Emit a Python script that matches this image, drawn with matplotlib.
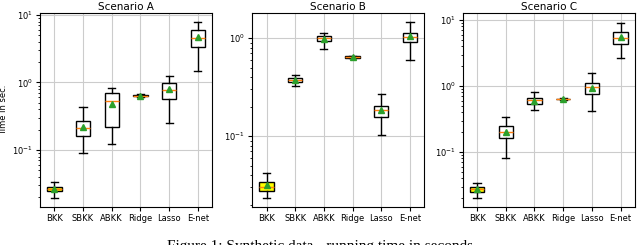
"""Running time box plots for the synthetic scenarios."""
import matplotlib
matplotlib.use("Agg")
import matplotlib.pyplot as plt

methods = ["BKK", "SBKK", "ABKK", "Ridge", "Lasso", "E-net"]
titles = ["Scenario A", "Scenario B", "Scenario C"]

# per method: whislo, q1, med, q3, whishi, mean
scen_a_lo = [0.0195, 0.089, 0.124, 0.600, 0.251, 1.50]
scen_a_q1 = [0.0245, 0.163, 0.221, 0.620, 0.574, 3.33]
scen_a_med = [0.0265, 0.211, 0.536, 0.635, 0.762, 4.62]
scen_a_q3 = [0.0284, 0.271, 0.688, 0.650, 0.977, 5.93]
scen_a_hi = [0.0333, 0.427, 0.834, 0.665, 1.25, 7.79]
scen_a_mean = [0.0265, 0.216, 0.478, 0.635, 0.797, 4.67]

scen_b_lo = [0.0233, 0.324, 0.772, 0.620, 0.102, 0.601]
scen_b_q1 = [0.0275, 0.356, 0.932, 0.630, 0.156, 0.903]
scen_b_med = [0.0306, 0.376, 1.00, 0.640, 0.183, 1.016]
scen_b_q3 = [0.0337, 0.391, 1.048, 0.650, 0.201, 1.133]
scen_b_hi = [0.0416, 0.423, 1.116, 0.660, 0.270, 1.456]
scen_b_mean = [0.0319, 0.376, 0.977, 0.640, 0.186, 1.048]

scen_c_lo = [0.020, 0.0807, 0.434, 0.615, 0.414, 2.68]
scen_c_q1 = [0.025, 0.162, 0.534, 0.628, 0.748, 4.37]
scen_c_med = [0.0274, 0.204, 0.614, 0.636, 0.955, 5.38]
scen_c_q3 = [0.0294, 0.246, 0.667, 0.645, 1.11, 6.55]
scen_c_hi = [0.0334, 0.336, 0.821, 0.655, 1.57, 9.17]
scen_c_mean = [0.0274, 0.200, 0.587, 0.636, 0.933, 5.57]

scenarios = [
    (scen_a_lo, scen_a_q1, scen_a_med, scen_a_q3, scen_a_hi, scen_a_mean),
    (scen_b_lo, scen_b_q1, scen_b_med, scen_b_q3, scen_b_hi, scen_b_mean),
    (scen_c_lo, scen_c_q1, scen_c_med, scen_c_q3, scen_c_hi, scen_c_mean),
]
ylims = [(0.0143, 10.7), (0.0189, 1.8), (0.0147, 12.8)]
lefts = [0.0625, 0.394, 0.723]

fig = plt.figure(figsize=(6.4, 2.45), dpi=100)

for k, (title, data) in enumerate(zip(titles, scenarios)):
    ax = fig.add_axes([lefts[k], 0.155, 0.269, 0.792])
    lo, q1, med, q3, hi, mean = data
    stats = []
    for i, name in enumerate(methods):
        stats.append(dict(label=name, whislo=lo[i], q1=q1[i], med=med[i],
                          q3=q3[i], whishi=hi[i], mean=mean[i], fliers=[]))
    bp = ax.bxp(stats, showmeans=True, patch_artist=True, widths=0.5,
                meanprops=dict(marker="^", markersize=5,
                               markerfacecolor="#2ca02c",
                               markeredgecolor="#2ca02c"))
    for j, box in enumerate(bp["boxes"]):
        box.set_facecolor("#ffff00" if j == 0 else "white")
        box.set_edgecolor("black")
    ax.set_yscale("log")
    ax.set_ylim(*ylims[k])
    ax.set_xlim(0.5, 6.5)
    ax.grid(True, color="#cccccc", linewidth=0.8)
    ax.set_axisbelow(True)
    ax.set_title(title, fontsize=7.5, pad=2)
    ax.tick_params(labelsize=6, length=3, pad=2)
    ax.tick_params(which="minor", length=1.5)
    if k == 0:
        ax.set_ylabel("Time in sec.", fontsize=6, labelpad=3)

fig.text(0.5, 0.022, "Figure 1: Synthetic data - running time in seconds",
         ha="center", va="top", fontsize=11, family="Liberation Serif")

fig.savefig("out.png", dpi=100)
